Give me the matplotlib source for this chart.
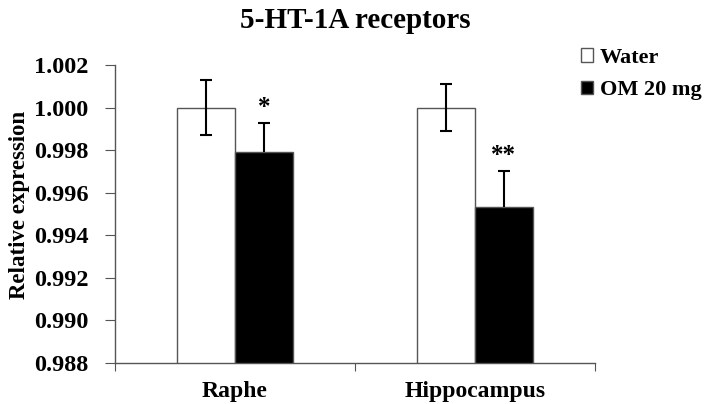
import matplotlib
matplotlib.use("Agg")
import matplotlib.pyplot as plt
from matplotlib.patches import Patch
import numpy as np

categories = ["Raphe", "Hippocampus"]
water = [1.0000, 1.0000]
water_err = [0.0013, 0.0011]
om = [0.99792, 0.99535]
om_err = [0.00135, 0.00168]
om_sig = ["*", "**"]
yticks = [0.988, 0.990, 0.992, 0.994, 0.996, 0.998, 1.000, 1.002]

plt.rcParams['font.family'] = ['Liberation Serif', 'DejaVu Serif']
plt.rcParams['font.weight'] = 'bold'

fig = plt.figure(figsize=(7.08, 4.04), dpi=100)
ax = fig.add_axes([115/708, 1-363/404, 480/708, 298/404])

x = np.arange(1, len(categories) + 1)
w = 0.24
edge = '#555555'
ax.bar(x - w/2, water, w, bottom=0, color='white', edgecolor=edge, linewidth=1.0, zorder=2)
ax.bar(x + w/2, om, w, bottom=0, color='black', edgecolor=edge, linewidth=1.0, zorder=2)
ax.errorbar(x - w/2, water, yerr=water_err, fmt='none', ecolor='black', elinewidth=1.5,
            capsize=4, capthick=1.5, zorder=3)
eb = ax.errorbar(x + w/2, om, yerr=[[0, 0], om_err], fmt='none', ecolor='black', elinewidth=1.5,
                 capsize=4, capthick=1.5, zorder=3)
eb[1][0].set_visible(False)
for xi, v, e, s in zip(x + w/2, om, om_err, om_sig):
    ax.text(xi, v + e + 0.0002, s, ha='center', va='bottom', fontsize=18, fontweight='bold')

ax.set_ylim(0.988, 1.002)
ax.set_xlim(0.5, 2.5)
ax.set_yticks(yticks)
ax.set_yticklabels([f"{t:.3f}" for t in yticks], fontsize=17.5, fontweight='bold')
ax.set_xticks([0.5, 1.5, 2.5])
ax.set_xticklabels([])
ax.set_xticks(x, minor=True)
ax.set_xticklabels(categories, minor=True, fontsize=17, fontweight='bold')
ax.tick_params(axis='x', which='minor', length=0, pad=13)
ax.tick_params(axis='x', which='major', length=6, color='#555555', direction='out')
ax.tick_params(axis='y', length=7, color='#555555', direction='out', pad=12)
for sp in ['top', 'right']:
    ax.spines[sp].set_visible(False)
for sp in ['left', 'bottom']:
    ax.spines[sp].set_color('#555555')
    ax.spines[sp].set_linewidth(1.0)

ax.set_ylabel("Relative expression", fontsize=16.5, fontweight='bold')
ax.yaxis.set_label_coords(-0.178, 0.53)
fig.text(355/708, 1-20/404, "5-HT-1A receptors", ha='center', va='center',
         fontsize=21, fontweight='bold')

handles = [Patch(facecolor='white', edgecolor='#555555', label='Water'),
           Patch(facecolor='black', edgecolor='#555555', label='OM 20 mg')]
fig.legend(handles=handles, loc='upper left', bbox_to_anchor=(581/708, 1-48/404),
           frameon=False, prop={'size': 16, 'weight': 'bold'}, handlelength=0.55,
           handleheight=0.55, handletextpad=0.3, labelspacing=0.55, borderaxespad=0,
           borderpad=0)

fig.savefig("out.png", dpi=100)
